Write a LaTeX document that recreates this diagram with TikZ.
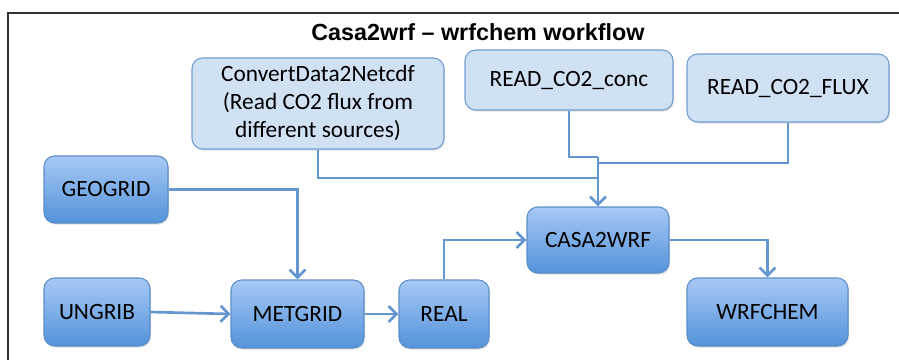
\documentclass[tikz,border=0pt]{standalone}
\usepackage{fontspec}
\setmainfont{Carlito}
\newfontfamily\titlefont[Ligatures=TeX]{Liberation Sans}
\usetikzlibrary{arrows.meta,shadows}

\definecolor{flowblue}{RGB}{100,150,207}
\definecolor{boxtop}{RGB}{166,201,246}
\definecolor{boxbottom}{RGB}{84,147,217}
\definecolor{boxedge}{RGB}{92,142,200}
\definecolor{inputfill}{RGB}{208,225,243}
\definecolor{inputedge}{RGB}{112,158,210}

\begin{document}
\begin{tikzpicture}[x=0.75pt,y=-0.75pt]

\tikzset{stepbox/.style={draw=boxedge, line width=0.8pt, rounded corners=8pt, top color=boxtop, bottom color=boxbottom, drop shadow={opacity=0.25, shadow xshift=0.8pt, shadow yshift=-1.2pt}, inner sep=0pt, font=\fontsize{17.5}{21}\selectfont}}
\tikzset{inputbox/.style={stepbox, draw=inputedge, top color=inputfill, bottom color=inputfill, align=center}}
\tikzset{flow/.style={draw=flowblue, line width=2pt, -{Straight Barb[length=6pt,width=12pt]}}}
\tikzset{feed/.style={draw=flowblue, line width=2pt}}

\useasboundingbox (0,0) rectangle (899,360);

% frame and figure title
\draw[line width=1.1pt, black!80] (8,360) -- (8,13) -- (899,13);
\node at (478,32) (title) {\titlefont\bfseries\fontsize{17.5}{21}\selectfont Casa2wrf – wrfchem workflow};

% input readers
\node[inputbox, minimum width=189pt, minimum height=68.25pt] at (318,103.5) (conv) {ConvertData2Netcdf\\(Read CO2 flux from\\different sources)};
\node[inputbox, minimum width=156pt, minimum height=45pt] at (569,80) (conc) {READ\_CO2\_conc};
\node[inputbox, minimum width=151.5pt, minimum height=51pt] at (788,88) (flux) {READ\_CO2\_FLUX};

% wps, real, casa2wrf, wrfchem
\node[stepbox, minimum width=93pt, minimum height=50.25pt] at (106,189.5) (geo) {GEOGRID};
\node[stepbox, minimum width=79.5pt, minimum height=51pt] at (97,312) (ungrib) {UNGRIB};
\node[stepbox, minimum width=99.75pt, minimum height=51pt] at (297.5,314) (metgrid) {METGRID};
\node[stepbox, minimum width=67.5pt, minimum height=51pt] at (444,314) (real) {REAL};
\node[stepbox, minimum width=106.5pt, minimum height=49.5pt] at (598,240) (casa) {CASA2WRF};
\node[stepbox, minimum width=120.75pt, minimum height=51pt] at (767.5,312) (wrfchem) {WRFCHEM};

% merge points above casa2wrf
\coordinate (concbend) at (598,157);
\coordinate (fluxbend) at (598,163);
\coordinate (convbend) at (598,178);

% interactions
\draw[feed] (conc.south) |- (concbend);
\draw[feed] (flux.south) |- (fluxbend);
\draw[feed] (conv.south) |- (convbend);
\draw[flow] (concbend) -- (casa.north);
\draw[flow] (geo.east) -| (metgrid.north);
\draw[flow] (ungrib.east) -- (metgrid.west);
\draw[flow] (metgrid.east) -- (real.west);
\draw[flow] (real.north) |- (casa.west);
\draw[flow] (casa.east) -| (wrfchem.north);

\end{tikzpicture}
\end{document}
